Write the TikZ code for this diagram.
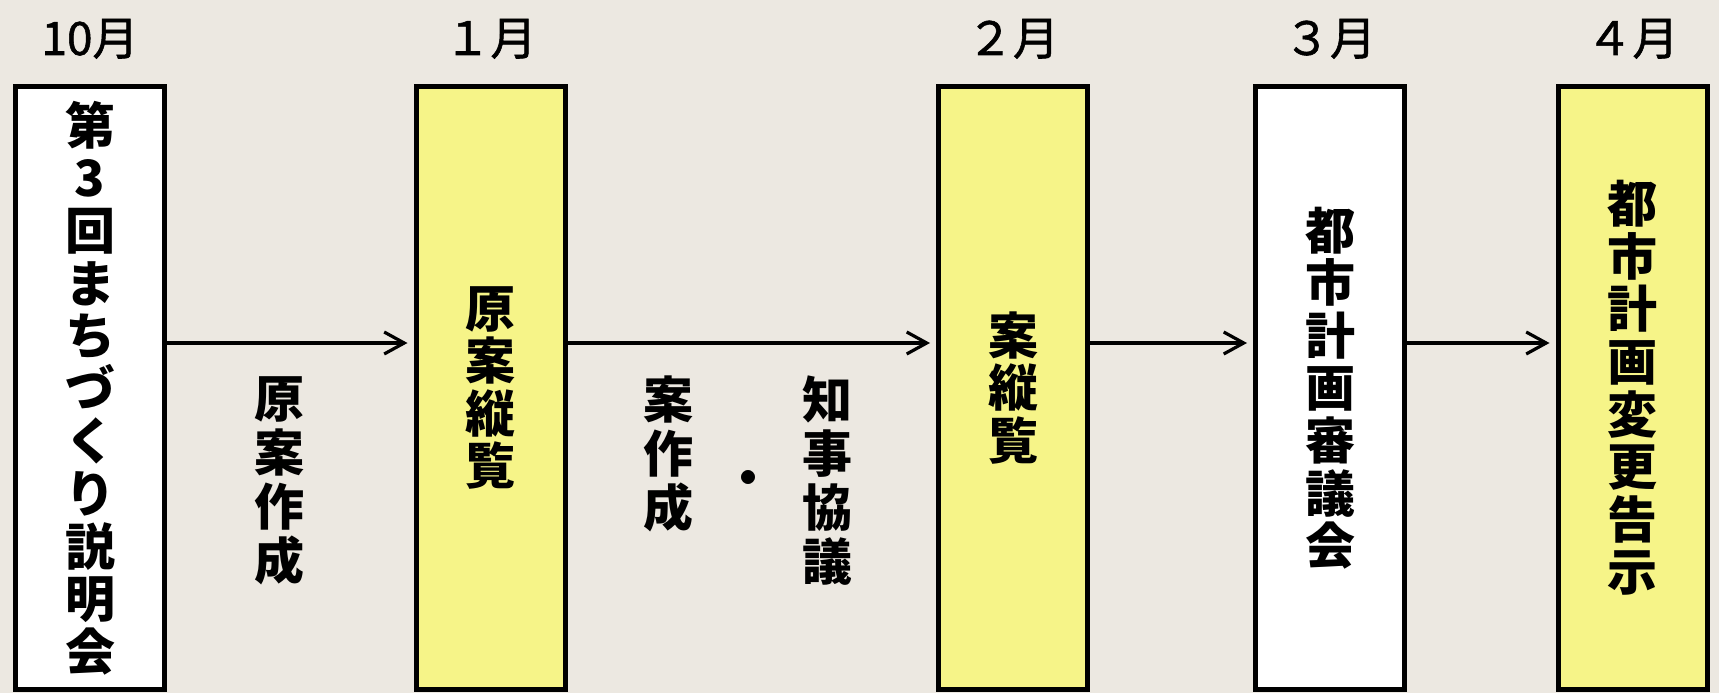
\documentclass[tikz,border=0pt]{standalone}
\usepackage{fontspec}
\newfontfamily\jp{Noto Sans CJK JP}
\newfontfamily\jpm{Noto Sans CJK JP}[FakeBold=1.2]
\usetikzlibrary{arrows.meta}
\definecolor{bg}{RGB}{236,232,225}
\definecolor{ylw}{RGB}{246,244,136}
\begin{document}
\begin{tikzpicture}[x=1pt,y=-1pt,
  box/.style={draw=black, line width=5pt, minimum width=149pt, minimum height=603pt,
    inner sep=0pt, align=center, font=\jp\bfseries\fontsize{50}{52.6}\selectfont},
  wbox/.style={box, fill=white},
  ybox/.style={box, fill=ylw},
  vlab/.style={inner sep=0pt, align=center, anchor=north,
    font=\jp\bfseries\fontsize{50}{54}\selectfont},
  month/.style={anchor=base, inner sep=0pt, font=\jpm\fontsize{46}{46}\selectfont},
  conn/.style={line width=3.2pt, shorten >=6pt,
    -{Straight Barb[length=20pt,width=22pt]}}]
\fill[bg] (0,0) rectangle (1719,693);
\useasboundingbox (0,0) rectangle (1719,693);
% boxes
\node[wbox] (b1) at (90,388) {第\\3\\回\\ま\\ち\\づ\\く\\り\\説\\明\\会};
\node[ybox] (b2) at (490.5,388) {原\\案\\縦\\覧};
\node[ybox] (b3) at (1013,388) {案\\縦\\覧};
\node[wbox] (b4) at (1330,388) {都\\市\\計\\画\\審\\議\\会};
\node[ybox] (b5) at (1632.5,388) {都\\市\\計\\画\\変\\更\\告\\示};
% month labels
\node[month] (m1) at (90,55) {10月};
\node[month] (m2) at (490.5,55) {１月};
\node[month] (m3) at (1013,55) {２月};
\node[month] (m4) at (1330,55) {３月};
\node[month] (m5) at (1632.5,55) {４月};
% labels between boxes
\node[vlab] (t1) at (279,376) {原\\案\\作\\成};
\node[vlab] (t2) at (668,376) {案\\作\\成};
\node[inner sep=0pt, font=\jp\bfseries\fontsize{50}{54}\selectfont] (dot) at (748,483) {・};
\node[vlab] (t3) at (827,376) {知\\事\\協\\議};
% connectors
\coordinate (arow) at (0,343);
\draw[conn] (b1.east |- arow) -- (b2.west |- arow);
\draw[conn] (b2.east |- arow) -- (b3.west |- arow);
\draw[conn] (b3.east |- arow) -- (b4.west |- arow);
\draw[conn] (b4.east |- arow) -- (b5.west |- arow);
\end{tikzpicture}
\end{document}
